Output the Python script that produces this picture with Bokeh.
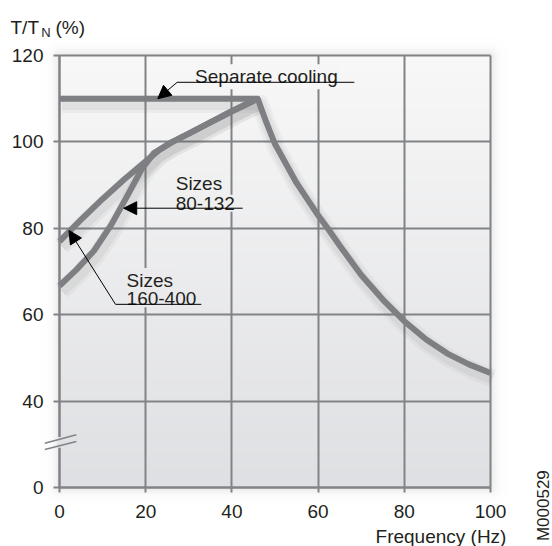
import numpy as np
from bokeh.plotting import figure
from bokeh.models import Range1d, Label, Arrow, NormalHead, FixedTicker
from bokeh.embed import file_html
from bokeh.resources import INLINE

# ---- data ----
# Separate cooling curve: constant torque, then field weakening above ~46 Hz
sep_freq = [0, 46, 47, 48, 49, 50, 55, 60, 62.5, 65, 70, 75, 80, 85, 90, 95, 100]
sep_torque = [110, 110, 107.2, 104.5, 102, 99.5, 90.5, 83, 79.6, 76, 69.2, 63.5, 58.5, 54.3, 51, 48.5, 46.5]

# Self-ventilated, sizes 160-400
big_freq = [0, 5, 10, 15, 20, 23, 26, 30, 35, 40, 46]
big_torque = [77, 82, 86.8, 91.3, 95.5, 98, 99.9, 101.9, 104.5, 107.1, 110]

# Self-ventilated, sizes 80-132
small_freq = [0, 4, 8, 12, 16, 19, 22, 26, 30, 35, 40, 46]
small_torque = [66.7, 70.5, 74.8, 80.8, 88, 93.6, 97.5, 99.9, 101.9, 104.5, 107.1, 110]

x_ticks = [0, 20, 40, 60, 80, 100]
y_ticks = [20, 40, 60, 80, 100, 120]      # 20 is drawn as "0" (broken axis)
y_tick_labels = {20: "0"}

# ---- layout: frame covers whole canvas, axes at fixed locations ----
W, H = 552, 546
PX, PY = 4.31, 4.32          # pixels per unit
ORG_X, ORG_Y = 59, 487       # canvas pixel of the (0, 20) corner
xr = Range1d(-ORG_X / PX, (W - ORG_X) / PX)
yr = Range1d(20 - (H - ORG_Y) / PY, 20 + ORG_Y / PY)

FONT = "Liberation Sans"
GRID = "#818386"
CURVE = "#7e7f82"
TXT = "#231f20"
BOT = np.array([223, 224, 227])
TOP = np.array([248, 248, 248])


def bg_at(y):
    c = BOT + (TOP - BOT) * (y - 20) / 100
    return "#%02x%02x%02x" % tuple(int(v) for v in c)


p = figure(width=W, height=H, x_range=xr, y_range=yr, output_backend="svg", toolbar_location=None,
           min_border=0, min_border_left=0, min_border_right=0, min_border_top=0, min_border_bottom=0)
p.title.visible = False
p.border_fill_color = "white"
p.background_fill_color = "white"
p.outline_line_color = None

# background: vertical gradient inside plot area plus a soft drop shadow
NX, NY = 480, 480
gx = -5 + (np.arange(NX) + 0.5) * 110 / NX
gy = 15 + (np.arange(NY) + 0.5) * 110 / NY
GX, GY = np.meshgrid(gx, gy)
inside = (GX >= 0) & (GX <= 100) & (GY >= 20) & (GY <= 120)
dx = np.maximum(np.maximum(0 - GX, GX - 100), 0) * PX
dy = np.maximum(np.maximum(20 - GY, GY - 120), 0) * PY
d = np.hypot(dx, dy)
img = np.empty((NY, NX), dtype=np.uint32)
view = img.view(dtype=np.uint8).reshape((NY, NX, 4))
t = ((GY - 20) / 100).clip(0, 1)
for k in range(3):
    view[:, :, k] = np.where(inside, BOT[k] + (TOP[k] - BOT[k]) * t, 80).astype(np.uint8)
view[:, :, 3] = np.where(inside, 255, 255 * 0.16 * np.exp(-d / 5)).astype(np.uint8)
p.image_rgba(image=[img], x=-5, y=15, dw=110, dh=110, level="image")

# grid
p.xgrid.ticker = FixedTicker(ticks=x_ticks)
p.ygrid.ticker = FixedTicker(ticks=y_ticks)
if "cross_bounds" in p.xgrid[0].properties():
    p.xgrid.bounds = (0, 100)
    p.xgrid.cross_bounds = (20, 120)
    p.ygrid.bounds = (20, 120)
    p.ygrid.cross_bounds = (0, 100)
    for g in (p.xgrid, p.ygrid):
        g.grid_line_color = GRID
        g.grid_line_width = 2
else:
    p.xgrid.visible = False
    p.ygrid.visible = False
    vx = x_ticks[1:]
    p.segment(x0=vx, y0=[20] * len(vx), x1=vx, y1=[120] * len(vx), line_color=GRID, line_width=2)
    hy = y_ticks[1:]
    p.segment(x0=[0] * len(hy), y0=hy, x1=[100] * len(hy), y1=hy, line_color=GRID, line_width=2)

# axes at fixed locations
p.xaxis.fixed_location = 20
p.yaxis.fixed_location = 0
p.xaxis.bounds = (0, 100)
p.yaxis.bounds = (20, 120)
for ax in (p.xaxis, p.yaxis):
    ax.axis_line_color = GRID
    ax.axis_line_width = 2
    ax.major_tick_line_color = GRID
    ax.major_tick_line_width = 2
    ax.major_tick_in = 0
    ax.minor_tick_line_color = None
    ax.major_label_text_font = FONT
    ax.major_label_text_font_size = "19px"
    ax.major_label_text_color = TXT
p.xaxis.ticker = FixedTicker(ticks=x_ticks)
p.yaxis.ticker = FixedTicker(ticks=y_ticks)
p.yaxis.major_label_overrides = y_tick_labels
p.xaxis.major_tick_out = 5
p.yaxis.major_tick_out = 6
p.xaxis.major_label_standoff = 12
p.yaxis.major_label_standoff = 10

# curve shadows (soft)
curves = ((sep_freq, sep_torque), (big_freq, big_torque), (small_freq, small_torque))
for w, a in ((18, 0.05), (12, 0.07)):
    for xs, ys in curves:
        p.line([v + 0.5 for v in xs], [v - 1.2 for v in ys], line_width=w, line_color="#555555",
               line_alpha=a, line_join="round")

# curves
for xs, ys in curves:
    p.line(xs, ys, line_width=6, line_color=CURVE, line_join="round")


# ---- annotations ----
def lbl(x, y, text, bg=None, size="19px", align="left", baseline="alphabetic", angle=0):
    kw = dict(x=x, y=y, text=text, text_font=FONT, text_font_size=size, text_color=TXT,
              text_align=align, text_baseline=baseline, angle=angle)
    if bg:
        kw.update(background_fill_color=bg, padding=2)
    p.add_layout(Label(**kw))


lbl(31.0, 115.1, "Separate cooling", bg=bg_at(115))
lbl(26.5, 90.3, "Sizes", bg=bg_at(90))
lbl(26.5, 85.8, "80-132", bg=bg_at(86))
lbl(15.1, 67.9, "Sizes", bg=bg_at(68))
lbl(15.1, 63.7, "160-400", bg=bg_at(64))


def seg(x0, y0, x1, y1, color="black", width=1, head=False):
    end = NormalHead(size=13, fill_color="black", line_color="black", line_width=1) if head else None
    p.add_layout(Arrow(x_start=x0, y_start=y0, x_end=x1, y_end=y1, end=end,
                       line_color=color, line_width=width))


# leader lines
seg(68.4, 113.8, 27.3, 113.8)
seg(27.3, 113.8, 22.8, 110.0, head=True)
seg(42.5, 84.65, 14.9, 84.65, head=True)
seg(32.9, 62.4, 13.0, 62.4)
seg(13.0, 62.4, 2.2, 79.5, head=True)

# axis break
seg(0, 29.2, 0, 31.7, color=bg_at(30), width=4)
seg(-3.4, 30.26, 3.9, 32.2, color=GRID, width=1.5)
seg(-3.4, 28.8, 3.9, 30.65, color=GRID, width=1.5)

# axis titles
lbl(-11.37, 126.55, "T/T")
lbl(-4.25, 125.25, "N", size="13px")
lbl(-0.93, 126.55, "(%)")
lbl(103.7, 8.6, "Frequency (Hz)", align="right")
lbl(112.4, 7.6, "M000529", size="17px", baseline="middle", angle=np.pi / 2)

open("out.html", "w").write(file_html(p, INLINE))
